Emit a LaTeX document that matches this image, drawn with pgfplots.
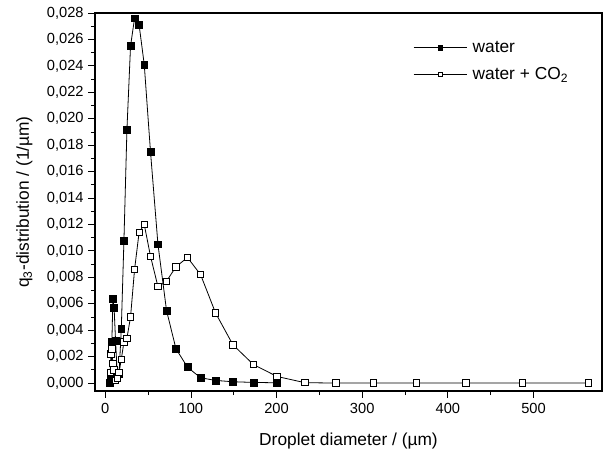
\documentclass[border=0pt]{standalone}
\usepackage{fontspec}
\setmainfont{Liberation Sans}
\usepackage{pgfplots}
\usepackage{pgfplotstable}
\pgfplotsset{compat=1.18}

% diameter (um), q3 (1/um)
\pgfplotstableread{
d q
5.7 0.0000
6.6 0.0004
7.7 0.0031
8.9 0.0064
10.3 0.0057
12.0 0.0032
13.9 0.0008
16.1 0.0007
18.7 0.0041
21.8 0.0108
25.3 0.0192
29.5 0.0255
34.2 0.0276
39.5 0.0271
45.5 0.0241
52.8 0.0175
61.5 0.0105
71.5 0.0055
82.5 0.0026
96.0 0.0012
111.3 0.0004
128.8 0.0002
149.0 0.0001
173.0 0.00005
200.5 0.00002
}\water

\pgfplotstableread{
d q
5.7 0.0008
6.6 0.0022
7.7 0.0026
8.9 0.0015
10.3 0.0010
12.0 0.0002
13.9 0.0004
16.1 0.0008
18.7 0.0018
21.8 0.0031
25.3 0.0034
29.5 0.0050
34.2 0.0086
39.5 0.0114
45.5 0.0120
52.8 0.0096
61.5 0.0073
71.5 0.0077
82.5 0.0088
96.0 0.0095
111.3 0.0082
128.8 0.0053
149.0 0.0029
173.0 0.0014
200.5 0.0005
233.0 0.00003
269.5 0
313.0 0
363.0 0
421.0 0
487.0 0
564.0 0
}\waterco

\begin{document}
\begin{tikzpicture}[x=1pt,y=1pt]
\useasboundingbox (-71.25,-48.75) rectangle (388.5,293.25);
\begin{axis}[
  scale only axis,
  width=380.25pt, height=283.5pt,
  xmin=-12, xmax=580,
  ymin=-0.0006, ymax=0.028,
  xtick={0,100,...,500}, minor x tick num=1,
  ytick distance=0.002, minor y tick num=1,
  scaled ticks=false,
  tick align=outside, xtick pos=left, ytick pos=left,
  major tick length=5pt, minor tick length=3pt,
  tick style={black, line width=0.6pt},
  axis line style={line width=0.8pt},
  yticklabel style={/pgf/number format/.cd, fixed, fixed zerofill, precision=3, use comma},
  /pgf/number format/assume math mode=true,
  tick label style={font=\fontsize{11}{13}\selectfont},
  xticklabel style={yshift=-1pt},
  label style={font=\fontsize{13}{15}\selectfont},
  xlabel={Droplet diameter / (µm)},
  ylabel={q\textsubscript{3}-distribution / (1/µm)},
  xlabel style={yshift=-7pt},
  ylabel style={yshift=4pt},
  legend style={draw=none, fill=none, at={(0.627,0.93)}, anchor=north west,
    font=\fontsize{13}{15}\selectfont, row sep=8pt, inner sep=0pt,
    nodes={inner xsep=4pt, inner ysep=1pt}},
  legend cell align=left,
  legend image code/.code={\draw[mark repeat=2,mark phase=2,#1,mark size=1.6pt] plot coordinates {(0pt,0pt) (20pt,0pt) (40pt,0pt)};},
]
\addplot[black, line width=0.6pt, mark=square*, mark size=2.6pt,
  mark options={fill=black, line width=0.4pt}] table[x=d, y=q] {\water};
\addlegendentry{water}
\addplot[black, line width=0.6pt, mark=square*, mark size=2.4pt,
  mark options={fill=white, line width=0.6pt}] table[x=d, y=q] {\waterco};
\addlegendentry{water + CO\textsubscript{2}}
\end{axis}
\end{tikzpicture}
\end{document}
